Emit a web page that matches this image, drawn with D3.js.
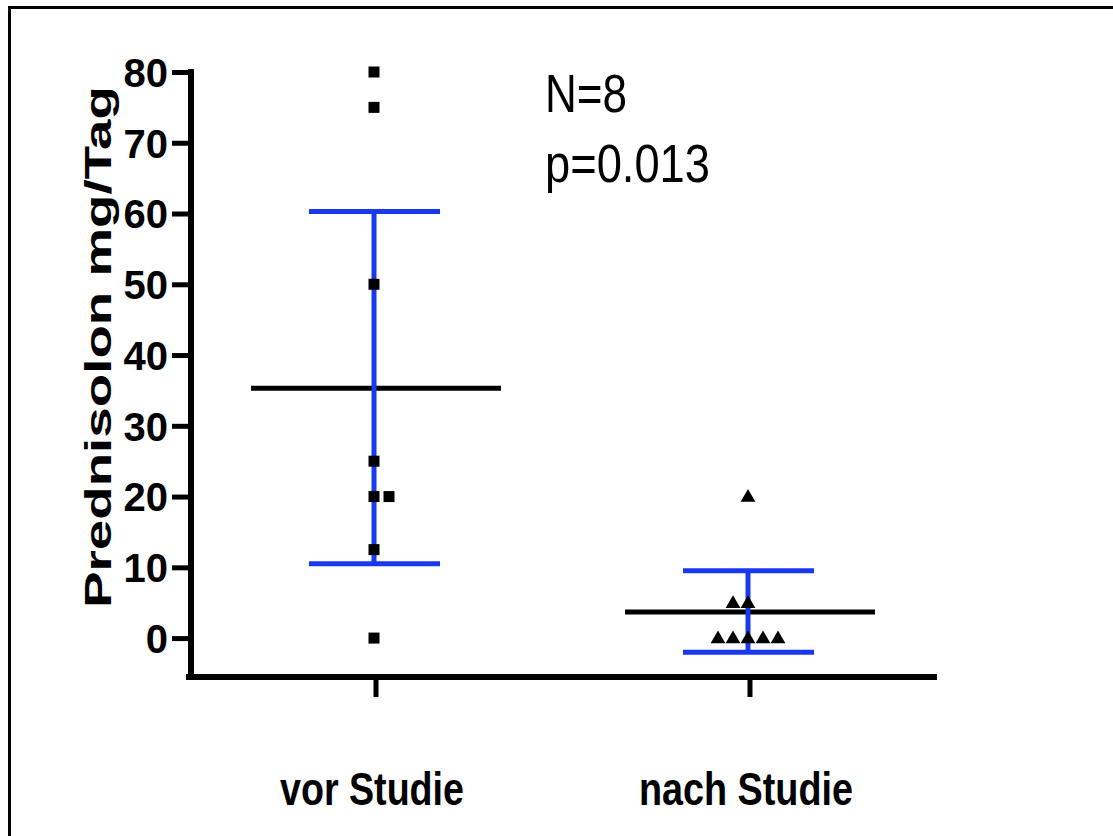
<!DOCTYPE html>
<html>
<head>
<meta charset="utf-8">
<script src="https://cdn.jsdelivr.net/npm/d3@7"></script>
<style>
  body { margin: 0; background: #fff; }
  svg { display: block; }
</style>
</head>
<body>
<div id="chart"></div>
<script>
// Daten
const groups = ["vor Studie", "nach Studie"];
const vorWerte = [80, 75, 50, 25, 20, 20, 12.5, 0];
const nachWerte = [20, 5, 5, 0, 0, 0, 0, 0];
const mittelwerte = [35.3, 3.7];
const sdOben = [60.3, 9.5];
const sdUnten = [10.5, -2.0];
const yTicks = [0, 10, 20, 30, 40, 50, 60, 70, 80];
const annotation = ["N=8", "p=0.013"];

const width = 1113,
    height = 836,
    blau = "#1838f2";

const svg = d3.select("#chart")
  .append("svg")
  .attr("width", width)
  .attr("height", height);

// Rahmen oben und links
svg.append("path")
  .attr("d", `M9.5,${height} V7.5 H${width}`)
  .attr("fill", "none")
  .attr("stroke", "#000")
  .attr("stroke-width", 3);

const y = d3.scaleLinear()
  .domain([-5.5, 80])
  .range([677, 72]);

const x = d3.scaleBand()
  .domain(groups)
  .range([189, 937]);

const cx = g => x(g) + x.bandwidth() / 2;

// y-Achse
const yAxis = svg.append("g")
  .attr("transform", "translate(191,0)")
  .call(d3.axisLeft(y).tickValues(yTicks).tickSize(19).tickPadding(4).tickSizeOuter(0));

yAxis.select(".domain")
  .attr("d", `M0,${y(80) - 3}V${y(-5.5)}`)
  .attr("stroke-width", 6);
yAxis.selectAll(".tick line").attr("stroke-width", 5);
yAxis.selectAll(".tick text")
  .attr("font-family", "'Liberation Sans', Arial, sans-serif")
  .attr("font-weight", "bold")
  .attr("font-size", 40)
  .attr("fill", "#000")
  .attr("dy", "0.36em");

// x-Achse
const xAxis = svg.append("g")
  .attr("transform", `translate(0,${y(-5.5)})`)
  .call(d3.axisBottom(x).tickSize(20).tickSizeOuter(0).tickFormat(""));

xAxis.select(".domain")
  .attr("d", `M186,0H937`)
  .attr("stroke-width", 6);
xAxis.selectAll(".tick line").attr("stroke-width", 5);

svg.append("g")
  .selectAll("text")
  .data(groups)
  .join("text")
  .attr("x", d => cx(d) - 4)
  .attr("y", 805)
  .attr("text-anchor", "middle")
  .attr("font-family", "'Liberation Sans', Arial, sans-serif")
  .attr("font-weight", "bold")
  .attr("font-size", 46)
  .attr("textLength", (d, i) => i === 0 ? 184 : 214)
  .attr("lengthAdjust", "spacingAndGlyphs")
  .text(d => d);

// y-Beschriftung
svg.append("text")
  .attr("transform", `translate(111,347) rotate(-90)`)
  .attr("text-anchor", "middle")
  .attr("font-family", "'Liberation Sans', Arial, sans-serif")
  .attr("font-weight", "bold")
  .attr("font-size", 37)
  .attr("textLength", 522)
  .attr("lengthAdjust", "spacingAndGlyphs")
  .text("Prednisolon mg/Tag");

// Mittelwert-Linien
svg.append("g")
  .selectAll("line")
  .data(groups)
  .join("line")
  .attr("x1", d => cx(d) - 125)
  .attr("x2", d => cx(d) + 125)
  .attr("y1", (d, i) => y(mittelwerte[i]))
  .attr("y2", (d, i) => y(mittelwerte[i]))
  .attr("stroke", "#000")
  .attr("stroke-width", 5);

// Fehlerbalken (SD)
const fehler = svg.append("g")
  .attr("stroke", blau)
  .attr("stroke-width", 5);

fehler.selectAll(".vert")
  .data(groups)
  .join("line")
  .attr("class", "vert")
  .attr("x1", d => cx(d) - 2)
  .attr("x2", d => cx(d) - 2)
  .attr("y1", (d, i) => y(sdOben[i]))
  .attr("y2", (d, i) => y(sdUnten[i]));

fehler.selectAll(".cap")
  .data(groups.flatMap((g, i) => [[g, sdOben[i]], [g, sdUnten[i]]]))
  .join("line")
  .attr("class", "cap")
  .attr("x1", d => cx(d[0]) - 67)
  .attr("x2", d => cx(d[0]) + 64)
  .attr("y1", d => y(d[1]))
  .attr("y2", d => y(d[1]));

// gleiche Werte nebeneinander legen
function streuen(werte, nachLinks) {
  const zaehler = d3.rollup(werte, v => v.length, v => v);
  const seen = new Map();
  return werte.map(v => {
    const k = zaehler.get(v);
    const i = seen.get(v) || 0;
    seen.set(v, i + 1);
    const start = nachLinks ? Math.floor(k / 2) : Math.floor((k - 1) / 2);
    return { value: v, offset: i - start };
  });
}

const vorPunkte = streuen(vorWerte, false);
const nachPunkte = streuen(nachWerte, true);

svg.append("g")
  .selectAll("rect")
  .data(vorPunkte)
  .join("rect")
  .attr("x", d => cx(groups[0]) - 2 + d.offset * 15 - 5.5)
  .attr("y", d => y(d.value) - 5.5)
  .attr("width", 11)
  .attr("height", 11)
  .attr("fill", "#000");

const dreieck = d3.symbol().type(d3.symbolTriangle).size(95);

svg.append("g")
  .selectAll("path")
  .data(nachPunkte)
  .join("path")
  .attr("transform", d => `translate(${cx(groups[1]) - 2 + d.offset * 15},${y(d.value) + 1})`)
  .attr("d", dreieck)
  .attr("fill", "#000");

// Annotation
svg.append("g")
  .selectAll("text")
  .data(annotation)
  .join("text")
  .attr("x", 545)
  .attr("y", (d, i) => 112 + i * 70)
  .attr("font-family", "'Liberation Sans', Arial, sans-serif")
  .attr("font-size", 53)
  .attr("textLength", (d, i) => i === 0 ? 82 : 165)
  .attr("lengthAdjust", "spacingAndGlyphs")
  .text(d => d);
</script>
</body>
</html>
